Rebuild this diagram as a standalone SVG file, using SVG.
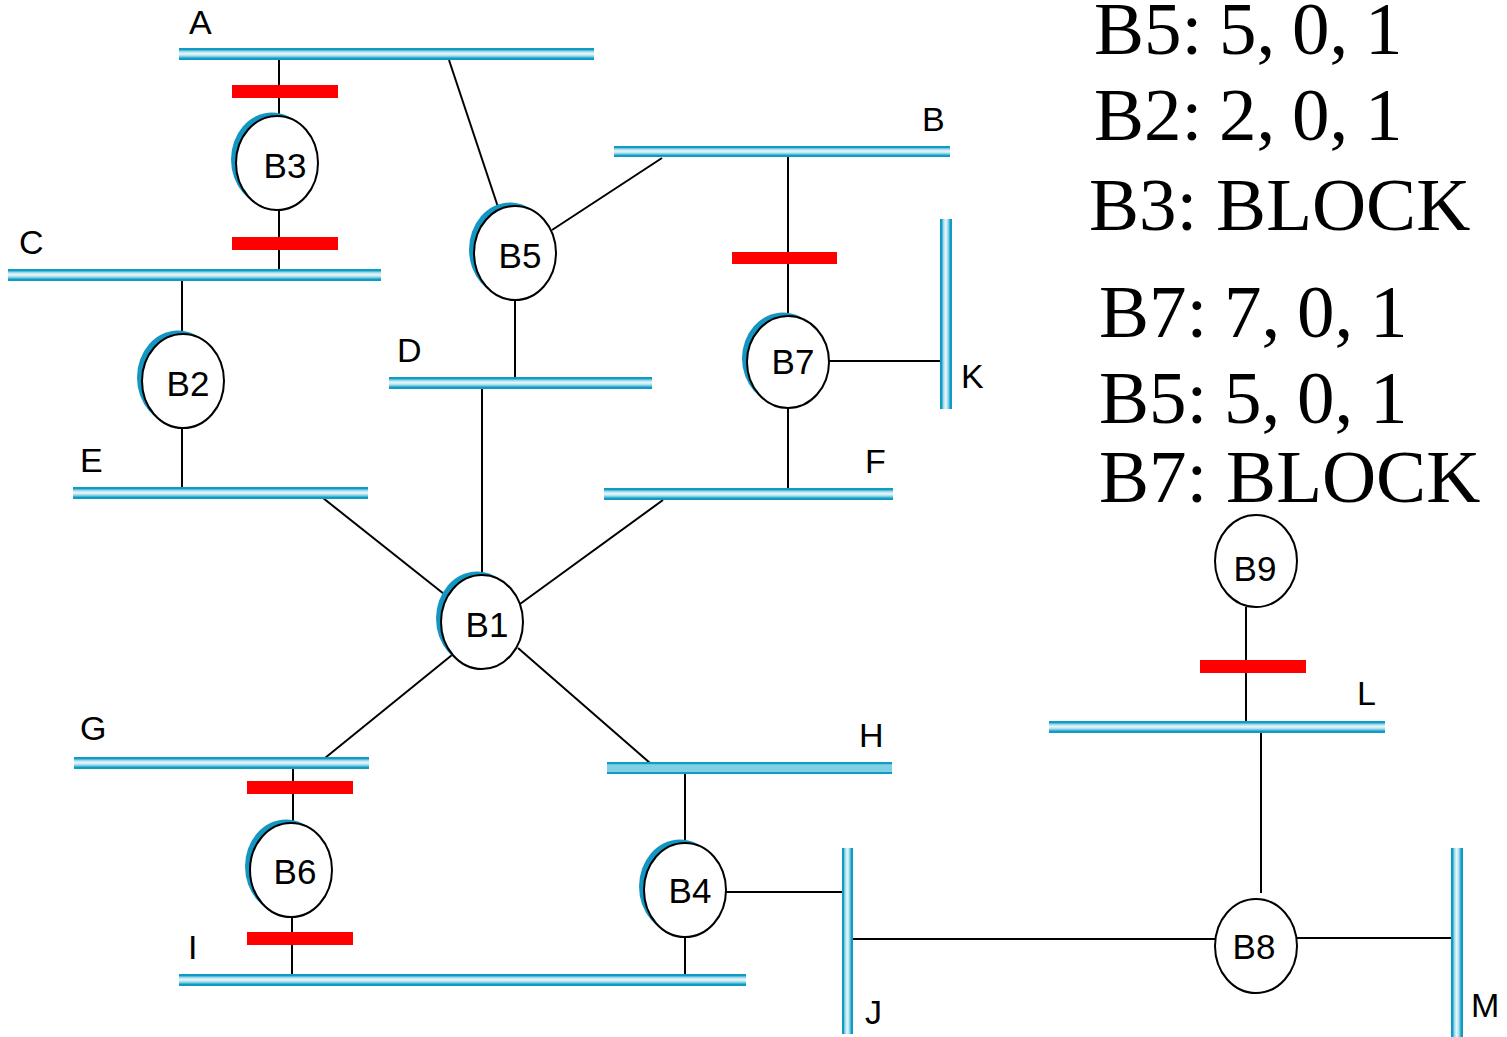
<svg xmlns="http://www.w3.org/2000/svg" width="1507" height="1037" viewBox="0 0 1507 1037">
<style>
.bg{fill:#ffffff}
.hb{fill:url(#gh)}
.hf{fill:url(#ghf)}
.vb{fill:url(#gv)}
.lbl{font-family:"Liberation Sans",Arial,sans-serif;font-size:34px;fill:#000}
.btxt{font-family:"Liberation Sans",Arial,sans-serif;font-size:35px;fill:#000;text-anchor:middle}
.tab{font-family:"Liberation Serif","Times New Roman",serif;font-size:75px;fill:#000}
.num{word-spacing:-2px}
.wire{stroke:#000;stroke-width:2;fill:none}
.blk{fill:#ff0000}
.sh{fill:#1396c1}
.br{fill:#fff;stroke:#000;stroke-width:2}
</style>
<defs>
<linearGradient id="gh" x1="0" y1="0" x2="0" y2="1">
<stop offset="0" stop-color="#0e9cc4"/>
<stop offset="0.16" stop-color="#0e9cc4"/>
<stop offset="0.24" stop-color="#86d0e5"/>
<stop offset="0.45" stop-color="#e6f6fb"/>
<stop offset="0.6" stop-color="#c4e8f2"/>
<stop offset="0.76" stop-color="#5fbfda"/>
<stop offset="0.85" stop-color="#0e9cc4"/>
<stop offset="1" stop-color="#0e9cc4"/>
</linearGradient>
<linearGradient id="ghf" x1="0" y1="0" x2="0" y2="1">
<stop offset="0" stop-color="#0e9cc4"/>
<stop offset="0.16" stop-color="#0e9cc4"/>
<stop offset="0.22" stop-color="#80cfe2"/>
<stop offset="0.8" stop-color="#80cfe2"/>
<stop offset="0.86" stop-color="#0e9cc4"/>
<stop offset="1" stop-color="#0e9cc4"/>
</linearGradient>
<linearGradient id="gv" x1="0" y1="0" x2="1" y2="0">
<stop offset="0" stop-color="#0e9cc4"/>
<stop offset="0.16" stop-color="#0e9cc4"/>
<stop offset="0.24" stop-color="#86d0e5"/>
<stop offset="0.45" stop-color="#e6f6fb"/>
<stop offset="0.6" stop-color="#c4e8f2"/>
<stop offset="0.76" stop-color="#5fbfda"/>
<stop offset="0.85" stop-color="#0e9cc4"/>
<stop offset="1" stop-color="#0e9cc4"/>
</linearGradient>
</defs>
<rect class="bg" x="0" y="0" width="1507" height="1037"/>

<g id="connectors">
<path class="wire" d="M279 59V117"/>
<path class="wire" d="M279 210V270"/>
<path class="wire" d="M449 60L498 207"/>
<path class="wire" d="M552 230L662 158"/>
<path class="wire" d="M515 300V378"/>
<path class="wire" d="M788 156V316"/>
<path class="wire" d="M829 361H941"/>
<path class="wire" d="M788 408V489"/>
<path class="wire" d="M182 280V334"/>
<path class="wire" d="M182 428V488"/>
<path class="wire" d="M323 498L444 594"/>
<path class="wire" d="M482 388V575"/>
<path class="wire" d="M663 500L520 604"/>
<path class="wire" d="M452 655L325 758"/>
<path class="wire" d="M518 648L650 763"/>
<path class="wire" d="M293 768V823"/>
<path class="wire" d="M292 917V975"/>
<path class="wire" d="M685 773V843"/>
<path class="wire" d="M685 937V975"/>
<path class="wire" d="M726 892H843"/>
<path class="wire" d="M853 939H1215"/>
<path class="wire" d="M1297 938H1457"/>
<path class="wire" d="M1261 893V728"/>
<path class="wire" d="M1246 607V727"/>
</g>

<g id="bus-A"><rect class="hb" x="179" y="48" width="415" height="12"/><text class="lbl" x="189" y="34">A</text></g>
<g id="bus-B"><rect class="hb" x="614" y="146" width="336" height="11"/><text class="lbl" x="922" y="131">B</text></g>
<g id="bus-C"><rect class="hb" x="8" y="269" width="373" height="12"/><text class="lbl" x="19" y="254">C</text></g>
<g id="bus-D"><rect class="hb" x="389" y="377" width="263" height="12"/><text class="lbl" x="397" y="362">D</text></g>
<g id="bus-E"><rect class="hb" x="73" y="487" width="295" height="12"/><text class="lbl" x="80" y="472">E</text></g>
<g id="bus-F"><rect class="hb" x="604" y="488" width="289" height="12"/><text class="lbl" x="865" y="473">F</text></g>
<g id="bus-G"><rect class="hb" x="74" y="757" width="295" height="12"/><text class="lbl" x="80" y="740">G</text></g>
<g id="bus-H"><rect class="hf" x="607" y="762" width="285" height="12"/><text class="lbl" x="859" y="747">H</text></g>
<g id="bus-I"><rect class="hb" x="179" y="974" width="567" height="12"/><text class="lbl" x="188" y="959">I</text></g>
<g id="bus-J"><rect class="vb" x="842" y="848" width="11" height="186"/><text class="lbl" x="865" y="1024">J</text></g>
<g id="bus-K"><rect class="vb" x="940" y="219" width="12" height="190"/><text class="lbl" x="961" y="388">K</text></g>
<g id="bus-L"><rect class="hb" x="1049" y="721" width="336" height="12"/><text class="lbl" x="1357" y="705">L</text></g>
<g id="bus-M"><rect class="vb" x="1451" y="848" width="12" height="189"/><text class="lbl" x="1471" y="1017">M</text></g>

<g id="blocks">
<rect class="blk" x="232" y="85" width="106" height="13"/>
<rect class="blk" x="232" y="237" width="106" height="13"/>
<rect class="blk" x="732" y="252" width="105" height="12"/>
<rect class="blk" x="247" y="781" width="106" height="13"/>
<rect class="blk" x="247" y="932" width="106" height="13"/>
<rect class="blk" x="1200" y="660" width="106" height="13"/>
</g>

<g id="B1"><ellipse class="sh" cx="477" cy="618.5" rx="41" ry="47"/><ellipse class="br" cx="482" cy="622" rx="41" ry="47"/><text class="btxt" x="487" y="637">B1</text></g>
<g id="B2"><ellipse class="sh" cx="178" cy="377.5" rx="41" ry="47"/><ellipse class="br" cx="183" cy="381" rx="41" ry="47"/><text class="btxt" x="188" y="396">B2</text></g>
<g id="B3"><ellipse class="sh" cx="272" cy="159.5" rx="41" ry="47"/><ellipse class="br" cx="277" cy="163" rx="41" ry="47"/><text class="btxt" x="285" y="178">B3</text></g>
<g id="B4"><ellipse class="sh" cx="680" cy="886.5" rx="41" ry="47"/><ellipse class="br" cx="685" cy="890" rx="41" ry="47"/><text class="btxt" x="690" y="903">B4</text></g>
<g id="B5"><ellipse class="sh" cx="510" cy="249.5" rx="41" ry="47"/><ellipse class="br" cx="515" cy="253" rx="41" ry="47"/><text class="btxt" x="520" y="268">B5</text></g>
<g id="B6"><ellipse class="sh" cx="286" cy="866.5" rx="41" ry="47"/><ellipse class="br" cx="291" cy="870" rx="41" ry="47"/><text class="btxt" x="295" y="884">B6</text></g>
<g id="B7"><ellipse class="sh" cx="783" cy="358.5" rx="41" ry="46"/><ellipse class="br" cx="788" cy="362" rx="41" ry="46"/><text class="btxt" x="793" y="374">B7</text></g>
<g id="B8"><ellipse class="br" cx="1256" cy="946" rx="41" ry="47"/><text class="btxt" x="1254" y="959">B8</text></g>
<g id="B9"><ellipse class="br" cx="1256" cy="561" rx="41" ry="46"/><text class="btxt" x="1255" y="581">B9</text></g>

<g id="tables">
<text class="tab num" x="1094" y="54">B5: 5, 0, 1</text>
<text class="tab num" x="1094" y="140">B2: 2, 0, 1</text>
<text class="tab" x="1089" y="230">B3: BLOCK</text>
<text class="tab num" x="1099" y="337">B7: 7, 0, 1</text>
<text class="tab num" x="1099" y="423">B5: 5, 0, 1</text>
<text class="tab" x="1099" y="502">B7: BLOCK</text>
</g>
</svg>
